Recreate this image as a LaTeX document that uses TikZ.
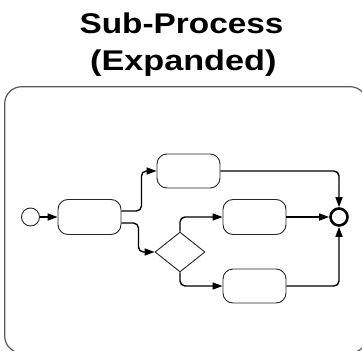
\documentclass[tikz,border=0pt]{standalone}
\usepackage{fontspec}
\setmainfont{Liberation Sans}
\usetikzlibrary{arrows.meta,shapes.geometric}
\tikzset{
  task/.style={draw=black!85,line width=0.9pt,rounded corners=10pt,minimum width=63pt,minimum height=35pt,inner sep=0pt},
  flow/.style={draw=black,line width=1.4pt,rounded corners=5pt,-{Triangle[length=10pt,width=7pt]}},
  titletext/.style={font=\fontsize{28.5}{34}\bfseries,align=center,inner sep=0pt,anchor=base}
}
\begin{document}
\begin{tikzpicture}[x=1pt,y=-1pt]
\useasboundingbox (0,0) rectangle (362,351);
\clip (0,0) rectangle (362,351);
\node[titletext] (t1line) at (181.5,33.3) {\scalebox{1.17}[1]{Sub-Process}};
\node[titletext] (t2line) at (183.3,70) {\scalebox{1.2}[1]{(Expanded)}};
\draw[draw=black!65,line width=1.2pt,rounded corners=17pt] (4.7,86.7) rectangle (367,353);
\node[draw=black!85,circle,line width=0.9pt,minimum size=18pt,inner sep=0pt] (start) at (30.5,217) {};
\node[task] (a) at (89.5,217) {};
\node[task,minimum height=34pt] (b) at (188.5,171) {};
\node[task] (c) at (254.5,217) {};
\node[task,minimum height=34pt] (d) at (254.5,286) {};
\node[diamond,draw=black!85,line width=0.9pt,minimum width=50pt,minimum height=40pt,inner sep=0pt] (gw) at (180,252) {};
\node[circle,draw=black,line width=2.6pt,minimum size=17pt,inner sep=0pt] (end) at (339,217) {};
\draw[flow] (start) -- (a);
\draw[flow] ([yshift=6pt]a.east) -- ++(20pt,0pt) |- (b.west);
\draw[flow] ([yshift=-6pt]a.east) -- ++(17pt,0pt) |- (gw.west);
\draw[flow] (gw.north) |- (c.west);
\draw[flow] (gw.south) |- (d.west);
\draw[flow] (b.east) -| (end.north);
\draw[flow] (c) -- (end);
\draw[flow] (d.east) -| (end.south);
\end{tikzpicture}
\end{document}
